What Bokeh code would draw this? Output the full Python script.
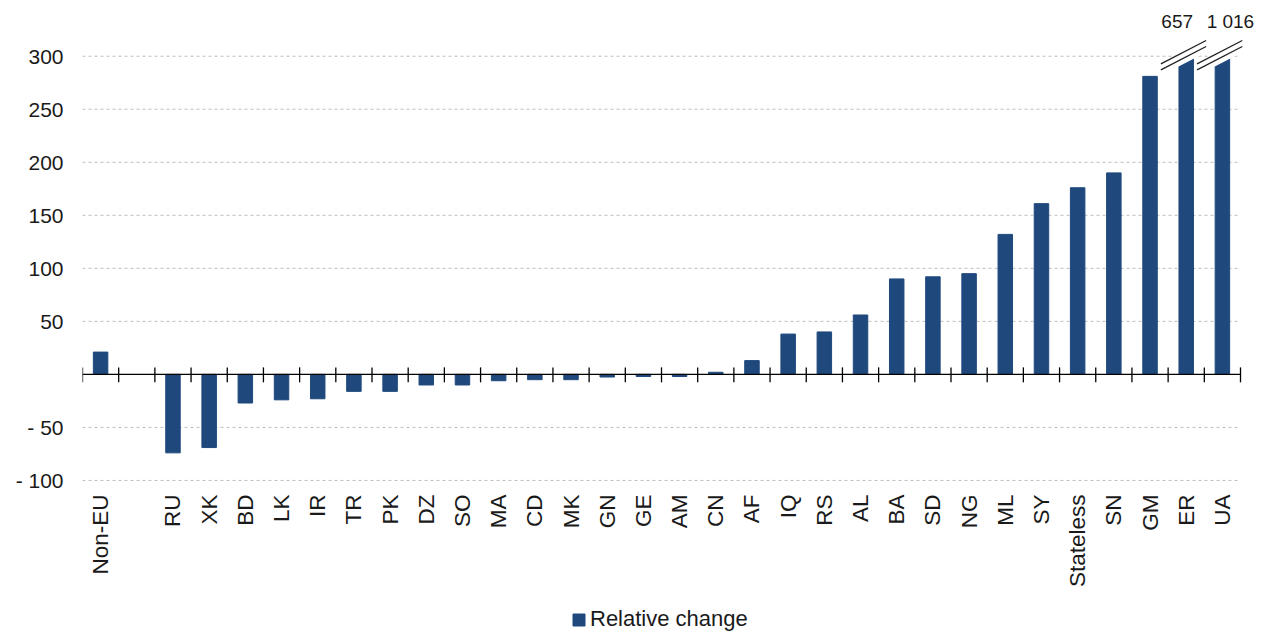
import numpy as np
from bokeh.plotting import figure
from bokeh.models import (Range1d, LinearAxis, FixedTicker, Legend, LegendItem,
                          ColumnDataSource)
from bokeh.core.properties import value
from bokeh.embed import file_html
from bokeh.resources import INLINE

# ---- data ----
categories = ["Non-EU", "", "RU", "XK", "BD", "LK", "IR", "TR", "PK", "DZ", "SO",
              "MA", "CD", "MK", "GN", "GE", "AM", "CN", "AF", "IQ", "RS", "AL",
              "BA", "SD", "NG", "ML", "SY", "Stateless", "SN", "GM", "ER", "UA"]
rel_change = [21, None, -74, -69, -27, -24, -23, -16, -16, -10, -10,
              -6, -5, -5, -2.5, -2, -2, 2, 13, 38, 40, 56,
              90, 92, 95, 132, 161, 176, 190, 281, 657, 1016]
y_ticks = [-100, -50, 50, 100, 150, 200, 250, 300]
y_tick_labels = ["- 100", "- 50", "50", "100", "150", "200", "250", "300"]
axis_cap = 300
series_name = "Relative change"

FONT = "Liberation Sans"
BAR = "#1f497d"
TXT = "#1a1a1a"

n = len(categories)
pos = np.arange(n, dtype=float)
vals = np.array([np.nan if v is None else v for v in rel_change], dtype=float)
mask = ~np.isnan(vals)
bx = pos[mask]
bv = vals[mask]
btop = np.minimum(bv, axis_cap)

# geometry: 36.19 px per category slot, 1.06 px per unit
slot_px = 1158 / n
extra_px = 14
y_lo = -100 - 152 / 1.06
p = figure(frame_width=1158 + extra_px, frame_height=624, output_backend="svg",
           toolbar_location=None,
           x_range=Range1d(-0.5, n - 0.5 + extra_px / slot_px),
           y_range=Range1d(y_lo, 345),
           min_border_left=82, min_border_right=0, min_border_top=8,
           min_border_bottom=0, x_axis_location=None, y_axis_location=None)
p.outline_line_color = None
p.background_fill_color = "white"
p.xgrid.visible = False
p.ygrid.visible = False

# y axis
yax = LinearAxis(ticker=FixedTicker(ticks=y_ticks))
yax.major_label_overrides = {t: l for t, l in zip(y_ticks, y_tick_labels)}
yax.axis_line_color = None
yax.major_tick_line_color = None
yax.minor_tick_line_color = None
yax.major_tick_in = 0
yax.major_tick_out = 0
yax.major_label_standoff = 19
yax.major_label_text_font = FONT
yax.major_label_text_font_size = "21px"
yax.major_label_text_color = TXT
p.add_layout(yax, "left")

# gridlines over the category span
p.segment(x0=[-0.5] * len(y_ticks), y0=y_ticks, x1=[n - 0.5] * len(y_ticks), y1=y_ticks,
          line_color="#bdbdbd", line_dash="3 3", line_width=1)

# bars
src = ColumnDataSource(dict(x=bx, top=btop))
r = p.vbar(x="x", top="top", bottom=0, width=0.4, source=src,
           fill_color=BAR, line_color=BAR)

# zero line with boundary ticks
p.segment(x0=[-0.5], y0=[0], x1=[n - 0.5], y1=[0], line_color="black", line_width=1.3)
bounds = np.arange(n + 1) - 0.5
p.segment(x0=bounds, y0=-7.5, x1=bounds, y1=6.6, line_color="black", line_width=1.3)

# category labels (vertical, below the -100 line)
p.text(x=pos, y=[-100 - 14 / 1.06] * n, text=categories, angle=np.pi / 2,
       text_align="right", text_baseline="middle", text_font=value(FONT),
       text_font_size="22.5px", text_color=TXT)

# broken-axis marks and true values for clipped bars
over = bv > axis_cap
ox = bx[over]
ov = bv[over]
for dy in (0.0, -5.6):
    p.segment(x0=ox - 0.7, y0=axis_cap - 10 + dy, x1=ox + 0.55, y1=axis_cap + 12 + dy,
              line_color="white", line_width=5)
for dy in (0.0, -5.6):
    p.segment(x0=ox - 0.7, y0=axis_cap - 10 + dy + 2.8, x1=ox + 0.55, y1=axis_cap + 12 + dy + 2.8,
              line_color="#222222", line_width=1.3)
labels = ["{:,}".format(int(v)).replace(",", " ") for v in ov]
shift = np.array([-9, 8][:len(ox)]) / slot_px
p.text(x=ox + shift, y=[333] * len(ox), text=labels, text_align="center",
       text_baseline="middle", text_font=value(FONT), text_font_size="19px",
       text_color=TXT)

legend = Legend(items=[LegendItem(label=series_name, renderers=[r])],
                orientation="horizontal", location=(489, 0),
                label_text_font=FONT, label_text_font_size="22px",
                label_text_color=TXT, glyph_width=15, glyph_height=15,
                border_line_color=None, background_fill_alpha=0,
                padding=2, margin=0, label_standoff=4)
p.add_layout(legend, "center")

open("out.html", "w").write(file_html(p, INLINE))
